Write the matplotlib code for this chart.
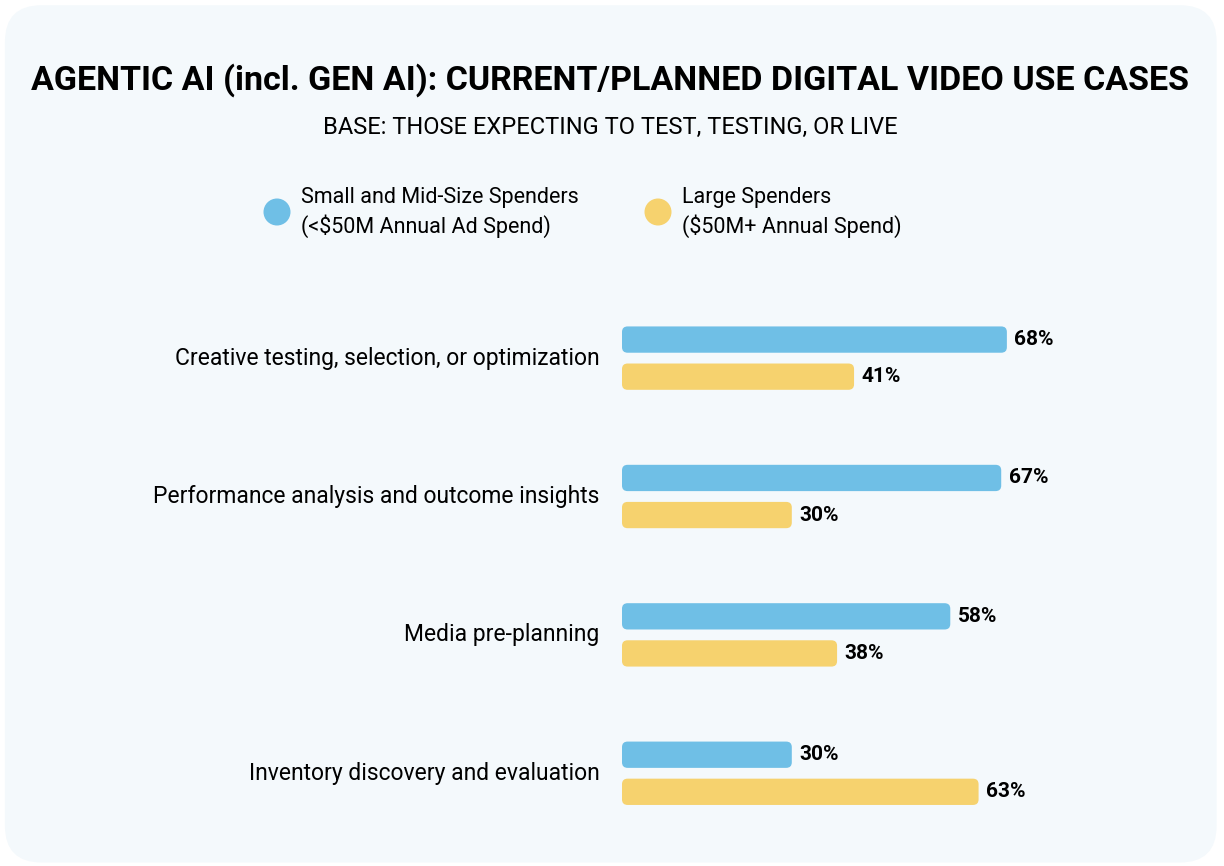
import matplotlib.pyplot as plt
from matplotlib.patches import FancyBboxPatch, Ellipse

categories = ["Creative testing, selection, or optimization",
              "Performance analysis and outcome insights",
              "Media pre-planning",
              "Inventory discovery and evaluation"]
small_mid = [68, 67, 58, 30]
large = [41, 30, 38, 63]

blue = "#6fbfe6"
yellow = "#f6d26e"
W, H = 1224, 866

plt.rcParams['font.family'] = ['Roboto', 'DejaVu Sans']

fig = plt.figure(figsize=(12.24, 8.66), dpi=100)
fig.patch.set_facecolor("white")
bg = FancyBboxPatch((0.004, 0.004), 0.99, 0.99, boxstyle="round,pad=0,rounding_size=0.03",
                    transform=fig.transFigure, facecolor="#f4f9fc", edgecolor="none",
                    mutation_aspect=W / H, zorder=-10)
fig.patches.append(bg)

fig.text(610 / W, 1 - 80 / H, "AGENTIC AI (incl. GEN AI): CURRENT/PLANNED DIGITAL VIDEO USE CASES",
         ha="center", va="center", fontsize=24.5, fontweight="bold", fontstretch="condensed")
fig.text(610 / W, 1 - 127 / H, "BASE: THOSE EXPECTING TO TEST, TESTING, OR LIVE",
         ha="center", va="center", fontsize=17)

# legend
for cx, l1, l2, col in [(277, "Small and Mid-Size Spenders", "(<$50M Annual Ad Spend)", blue),
                        (658, "Large Spenders", "($50M+ Annual Spend)", yellow)]:
    fig.patches.append(Ellipse((cx / W, 1 - 212 / H), 27 / W, 27 / H, transform=fig.transFigure,
                               facecolor=col, edgecolor="none"))
    fig.text((cx + 24) / W, 1 - 197 / H, l1, ha="left", va="center", fontsize=15.5)
    fig.text((cx + 24) / W, 1 - 226 / H, l2, ha="left", va="center", fontsize=15.5)

ax = fig.add_axes([622 / W, 1 - 830 / H, 566 / W, 530 / H])
ax.set_facecolor("none")
ax.set_xlim(0, 100)
ax.set_ylim(3.41, -0.42)
ax.axis("off")

off = 0.268
h = 0.19
for i, (a, b) in enumerate(zip(small_mid, large)):
    for val, y, col in [(a, i - off / 2, blue), (b, i + off / 2, yellow)]:
        p = FancyBboxPatch((0, y - h / 2), val, h, boxstyle="round,pad=0,rounding_size=1.0",
                           mutation_aspect=0.04, facecolor=col, edgecolor="none")
        ax.add_patch(p)
        ax.text(val + 1.3, y, f"{val}%", ha="left", va="center", fontsize=15,
                fontweight="bold", fontstretch="condensed")
    ax.text(-4, i, categories[i], ha="right", va="center", fontsize=16.5)

fig.savefig("out.png", dpi=100, facecolor="white")
